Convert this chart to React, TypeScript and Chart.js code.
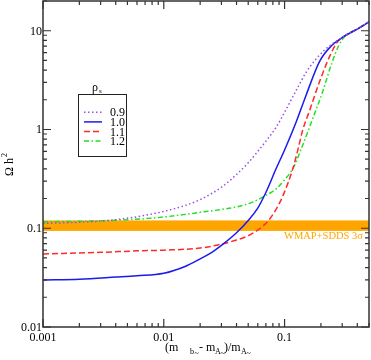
import React, { useEffect, useRef } from "react";
import { Chart, registerables } from "chart.js";
Chart.register(...registerables);

// ---- data ----
const xRho09 = [0.001, 0.002, 0.004, 0.007, 0.01, 0.015, 0.02, 0.03, 0.04, 0.05, 0.06, 0.07, 0.085, 0.103, 0.125, 0.151, 0.183, 0.215, 0.25, 0.303, 0.4, 0.5];
const yRho09 = [0.112, 0.115, 0.122, 0.135, 0.148, 0.17, 0.195, 0.26, 0.35, 0.46, 0.6, 0.76, 1.05, 1.6, 2.5, 3.8, 5.2, 6.4, 7.4, 8.6, 10.4, 12.3];

const xRho10 = [0.001, 0.002, 0.004, 0.006, 0.01, 0.015, 0.02, 0.025, 0.03, 0.04, 0.05, 0.06, 0.07, 0.085, 0.1, 0.125, 0.151, 0.195, 0.243, 0.303, 0.4, 0.5];
const yRho10 = [0.030, 0.0305, 0.032, 0.033, 0.035, 0.041, 0.049, 0.057, 0.067, 0.09, 0.12, 0.16, 0.23, 0.40, 0.62, 1.2, 2.24, 4.9, 7.0, 8.6, 10.4, 12.3];

const xRho11 = [0.001, 0.003, 0.006, 0.01, 0.02, 0.03, 0.04, 0.05, 0.06, 0.071, 0.085, 0.097, 0.117, 0.13, 0.141, 0.161, 0.195, 0.236, 0.27, 0.303, 0.4, 0.5];
const yRho11 = [0.055, 0.057, 0.059, 0.060, 0.063, 0.069, 0.076, 0.084, 0.096, 0.114, 0.155, 0.214, 0.40, 0.65, 0.98, 1.55, 3.06, 5.5, 7.5, 8.6, 10.4, 12.3];

const xRho12 = [0.001, 0.003, 0.0077, 0.015, 0.02, 0.03, 0.0425, 0.055, 0.07, 0.085, 0.1, 0.117, 0.141, 0.171, 0.207, 0.243, 0.283, 0.32, 0.4, 0.5];
const yRho12 = [0.116, 0.119, 0.126, 0.138, 0.145, 0.155, 0.167, 0.185, 0.215, 0.25, 0.31, 0.40, 0.69, 1.29, 2.43, 4.5, 7.2, 8.9, 10.4, 12.3];

const seriesLabels = ["0.9", "1.0", "1.1", "1.2"];
const legendTitle = "ρ";
const legendTitleSub = "s";

const bandLow = 0.094;
const bandHigh = 0.12;
const bandLabel = "WMAP+SDDS 3σ";

const xTickValues = [0.001, 0.01, 0.1];
const xTickLabels = ["0.001", "0.01", "0.1"];
const yTickValues = [0.01, 0.1, 1, 10];
const yTickLabels = ["0.01", "0.1", "1", "10"];

const xMin = 0.001, xMax = 0.5;
const yMin = 0.01, yMax = 20;

// ---- styles ----
const COLORS = ["#9a4ee6", "#1a1aee", "#ff2a2a", "#22e022"];
const DASHES: number[][] = [[1.5, 2.5], [], [6, 3], [5, 2.5, 1.5, 2.5]];
const SERIF = "'Liberation Serif', 'DejaVu Serif', serif";

const series = [
  { xs: xRho09, ys: yRho09 },
  { xs: xRho10, ys: yRho10 },
  { xs: xRho11, ys: yRho11 },
  { xs: xRho12, ys: yRho12 },
];

const overlay = {
  id: "overlay",
  beforeDatasetsDraw(chart: any) {
    const { ctx, chartArea: a, scales } = chart;
    const y = scales.y;
    const y1 = y.getPixelForValue(bandHigh);
    const y2 = y.getPixelForValue(bandLow);
    ctx.save();
    ctx.fillStyle = "#FFA500";
    ctx.fillRect(a.left, y1, a.right - a.left, y2 - y1);
    ctx.restore();
  },
  afterDraw(chart: any) {
    const { ctx, chartArea: a, scales } = chart;
    const x = scales.x, y = scales.y;
    ctx.save();
    // band label
    ctx.fillStyle = "#FFA500";
    ctx.font = `10.5px ${SERIF}`;
    ctx.textAlign = "left";
    ctx.textBaseline = "alphabetic";
    ctx.fillText(bandLabel, 284, y.getPixelForValue(bandLow) + 8);

    // frame
    ctx.strokeStyle = "#333";
    ctx.lineWidth = 1.5;
    ctx.strokeRect(a.left, a.top, a.right - a.left, a.bottom - a.top);

    // ticks
    ctx.lineWidth = 1.2;
    ctx.strokeStyle = "#333";
    const maj = 8, min = 4;
    for (let d = -3; d <= 1; d++) {
      for (let k = 1; k <= 9; k++) {
        const v = k * Math.pow(10, d);
        const len = k === 1 ? maj : min;
        if (v >= xMin - 1e-12 && v <= xMax + 1e-12) {
          const px = x.getPixelForValue(v);
          ctx.beginPath();
          ctx.moveTo(px, a.bottom); ctx.lineTo(px, a.bottom - len);
          ctx.moveTo(px, a.top); ctx.lineTo(px, a.top + len);
          ctx.stroke();
        }
      }
    }
    for (let d = -2; d <= 1; d++) {
      for (let k = 1; k <= 9; k++) {
        const v = k * Math.pow(10, d);
        const len = k === 1 ? maj : min;
        if (v >= yMin - 1e-12 && v <= yMax + 1e-12) {
          const py = y.getPixelForValue(v);
          ctx.beginPath();
          ctx.moveTo(a.left, py); ctx.lineTo(a.left + len, py);
          ctx.moveTo(a.right, py); ctx.lineTo(a.right - len, py);
          ctx.stroke();
        }
      }
    }

    // tick labels
    ctx.fillStyle = "#000";
    ctx.font = `12px ${SERIF}`;
    ctx.textAlign = "center";
    ctx.textBaseline = "alphabetic";
    xTickValues.forEach((v, i) => {
      ctx.fillText(xTickLabels[i], x.getPixelForValue(v), a.bottom + 14);
    });
    ctx.textAlign = "right";
    yTickValues.forEach((v, i) => {
      ctx.fillText(yTickLabels[i], a.left - 1, y.getPixelForValue(v) + 4);
    });

    // x axis title: (m_b~ - m_A~)/m_A~
    const base = 351;
    const parts: [string, number, number, number][] = [
      ["(m", 12, 165, 0], ["b", 8, 190, 3], ["~", 8, 194.5, 5],
      ["- m", 12, 199, 0], ["A", 8, 215, 3], ["~", 8, 220.5, 5],
      [")/m", 12, 224, 0], ["A", 8, 241, 3], ["~", 8, 246.5, 5],
    ];
    ctx.textAlign = "left";
    parts.forEach(([t, size, px, dy]) => {
      ctx.font = `${size}px ${SERIF}`;
      ctx.fillText(t, px, base + dy);
    });

    // y axis title: Ω h^2 (rotated)
    ctx.save();
    ctx.translate(13, 176);
    ctx.rotate(-Math.PI / 2);
    ctx.font = `12px ${SERIF}`;
    ctx.textAlign = "left";
    ctx.fillText("Ω h", 0, 0);
    const w = ctx.measureText("Ω h").width;
    ctx.font = `8px ${SERIF}`;
    ctx.fillText("2", w + 1, -6);
    ctx.restore();

    // legend
    const lx = 78, ly = 94, lw = 48, lh = 62;
    ctx.fillStyle = "#fff";
    ctx.fillRect(lx, ly, lw, lh);
    ctx.strokeStyle = "#222";
    ctx.lineWidth = 1;
    ctx.strokeRect(lx + 0.5, ly + 0.5, lw, lh);
    ctx.fillStyle = "#000";
    ctx.font = `12px ${SERIF}`;
    ctx.fillText(legendTitle, 92, 91);
    ctx.font = `7px ${SERIF}`;
    ctx.fillText(legendTitleSub, 99, 93);
    seriesLabels.forEach((lab, i) => {
      const cy = 112.3 + i * 9.6;
      ctx.strokeStyle = COLORS[i];
      ctx.lineWidth = 1.5;
      ctx.setLineDash(DASHES[i]);
      ctx.beginPath();
      ctx.moveTo(84, cy); ctx.lineTo(102, cy);
      ctx.stroke();
      ctx.setLineDash([]);
      ctx.fillStyle = "#000";
      ctx.font = `12px ${SERIF}`;
      ctx.fillText(lab, 110, cy + 4);
    });
    ctx.restore();
  },
};

export default function App() {
  const ref = useRef<HTMLCanvasElement | null>(null);
  useEffect(() => {
    if (!ref.current) return;
    const chart = new Chart(ref.current, {
      type: "line",
      data: {
        datasets: series.map((s, i) => ({
          label: seriesLabels[i],
          data: s.xs.map((xv, j) => ({ x: xv, y: s.ys[j] })),
          borderColor: COLORS[i],
          borderWidth: 1.5,
          borderDash: DASHES[i],
          pointRadius: 0,
          fill: false,
          cubicInterpolationMode: "monotone",
        })),
      },
      options: {
        animation: false,
        responsive: false,
        events: [],
        layout: { padding: { left: 43, top: 1, right: 2, bottom: 33 } },
        plugins: { legend: { display: false }, tooltip: { enabled: false } },
        scales: {
          x: { type: "logarithmic", min: xMin, max: xMax, display: false },
          y: { type: "logarithmic", min: yMin, max: yMax, display: false },
        },
      } as any,
      plugins: [overlay],
    });
    return () => chart.destroy();
  }, []);
  return (
    <div style={{ position: "absolute", left: 0, top: 0, width: 371, height: 360, background: "#fff" }}>
      <canvas ref={ref} width={371} height={360} style={{ display: "block", width: 371, height: 360 }} />
    </div>
  );
}
